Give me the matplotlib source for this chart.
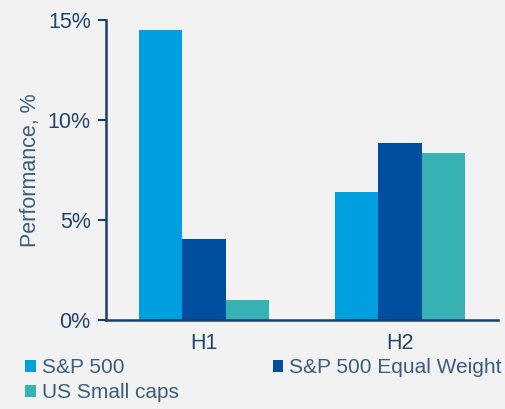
import numpy as np
import matplotlib.pyplot as plt
from matplotlib.patches import Patch

plt.rcParams['font.family'] = ['Liberation Sans', 'DejaVu Sans']

periods = ['H1', 'H2']
series = ['S&P 500', 'S&P 500 Equal Weight', 'US Small caps']
sp500 = [14.5, 6.4]
sp500_ew = [4.05, 8.85]
small_caps = [1.0, 8.35]
colors = ['#009FE0', '#004F9E', '#38B1B5']

TXT = '#1F4570'
TXT2 = '#3A5E80'
BG = '#F2F2F2'

fig = plt.figure(figsize=(5.06, 4.09), dpi=100, facecolor=BG)
ax = fig.add_axes([0.2095, 0.2176, 0.7745, 0.7334], facecolor=BG)

x = np.arange(len(periods))
w = 0.222
for i, (vals, c) in enumerate(zip([sp500, sp500_ew, small_caps], colors)):
    ax.bar(x + (i - 1) * w, vals, width=w, color=c, linewidth=0)

ax.set_xlim(-0.5, 1.5)
ax.set_ylim(0, 15)
ax.set_yticks([0, 5, 10, 15])
ax.set_yticklabels(['0%', '5%', '10%', '15%'])
ax.set_xticks(x)
ax.set_xticklabels(periods)

for s in ['top', 'right']:
    ax.spines[s].set_visible(False)
for s in ['left', 'bottom']:
    ax.spines[s].set_color('#17406D')
    ax.spines[s].set_linewidth(1.8)

ax.tick_params(axis='y', colors='#17406D', labelcolor=TXT, labelsize=15.5,
               length=6, width=1.5, pad=5)
ax.tick_params(axis='x', length=0, labelcolor=TXT, labelsize=15.5, pad=9)
ax.set_ylabel('Performance, %', color=TXT2, fontsize=15.5, labelpad=5)

# column-major fill: S&P 500 / Small caps in col 1, Equal Weight in col 2
order = [0, 2, 1]
handles = [Patch(facecolor=colors[i], edgecolor='none') for i in order]
labels = [series[i] for i in order]
fig.legend(handles, labels, ncol=2, loc='upper left',
           bbox_to_anchor=(0.05, 0.124), frameon=False, fontsize=15,
           handlelength=0.5, handleheight=0.5, handletextpad=0.3,
           columnspacing=4.5, labelspacing=0.28, borderaxespad=0,
           borderpad=0, labelcolor=TXT2)

fig.savefig('out.png', dpi=100, facecolor=BG)
